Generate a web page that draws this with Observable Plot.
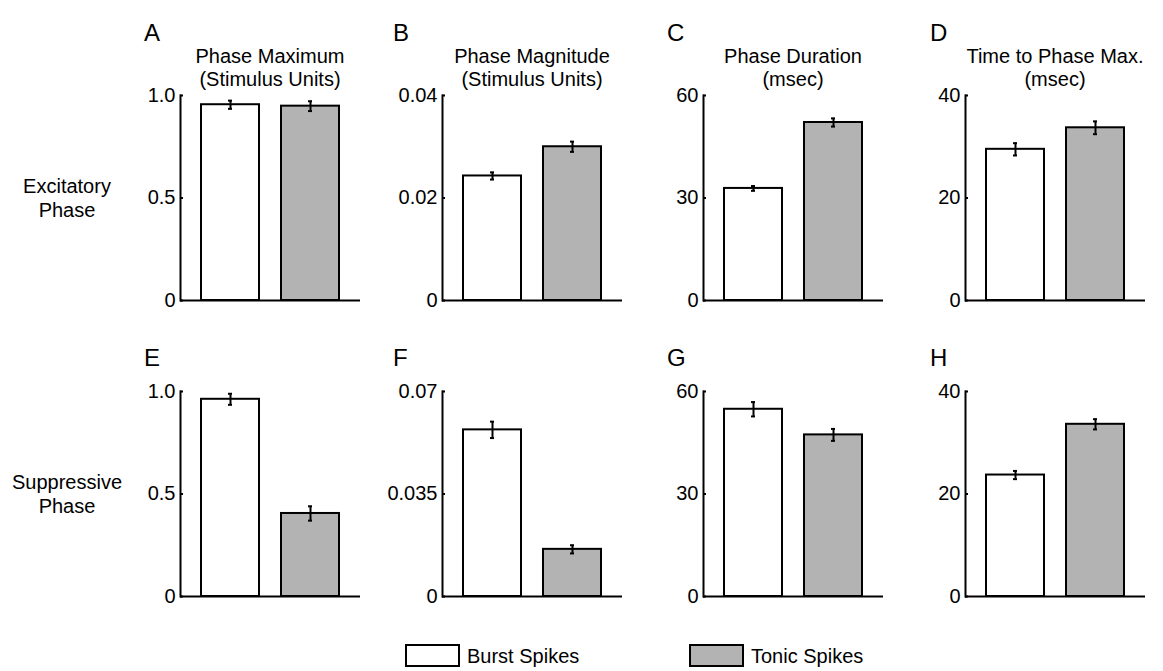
<!DOCTYPE html>
<html><head><meta charset="utf-8">
<script src="https://cdn.jsdelivr.net/npm/d3@7"></script>
<script src="https://cdn.jsdelivr.net/npm/@observablehq/plot@0.6"></script>
<style>
body{margin:0;background:#fff;}
#fig{position:relative;width:1163px;height:671px;overflow:hidden;background:#fff;font-family:"Liberation Sans",Arial,sans-serif;}
#fig svg{position:absolute;}
</style></head><body><div id="fig"></div>
<script>
// ---- data ----
const panelLetters = ["A","B","C","D","E","F","G","H"];
const columnTitles = [["Phase Maximum","(Stimulus Units)"],["Phase Magnitude","(Stimulus Units)"],["Phase Duration","(msec)"],["Time to Phase Max.","(msec)"]];
const rowLabels = [["Excitatory","Phase"],["Suppressive","Phase"]];
const groups = ["Burst Spikes","Tonic Spikes"];
const burstMeans = [0.955, 0.0243, 32.8, 29.5, 0.962, 0.0569, 54.8, 23.7];
const burstErr   = [0.020, 0.0007, 0.7, 1.2, 0.027, 0.0028, 2.1, 0.8];
const tonicMeans = [0.948, 0.0300, 52.1, 33.7, 0.405, 0.0161, 47.3, 33.6];
const tonicErr   = [0.024, 0.0010, 1.2, 1.25, 0.035, 0.0014, 1.75, 1.0];
const yMax = [1, 0.04, 60, 40, 1, 0.07, 60, 40];
const tickLabels = [["0","0.5","1.0"],["0","0.02","0.04"],["0","30","60"],["0","20","40"],
                    ["0","0.5","1.0"],["0","0.035","0.07"],["0","30","60"],["0","20","40"]];
const fillColors = ["#ffffff","#b3b3b3"];

// ---- layout ----
const FONT = "'Liberation Sans', Arial, sans-serif";
const ML=75, MR=10, MT=15, MB=15, PW=180, PH=205;
const axisX=[180,442,703,965], rowTop=[95,391];
const fig = document.getElementById("fig");

for (let i=0;i<8;i++){
  const col=i%4, row=Math.floor(i/4);
  const data = groups.map((g,j)=>({group:g, value: j? tonicMeans[i]:burstMeans[i], err: j? tonicErr[i]:burstErr[i]}));
  const ticks = [0, yMax[i]/2, yMax[i]];
  const lab = new Map(ticks.map((v,k)=>[v, tickLabels[i][k]]));
  const chart = Plot.plot({
    width: ML+PW+MR, height: MT+PH+MB,
    marginLeft: ML, marginRight: MR, marginTop: MT, marginBottom: MB,
    style: {fontFamily: FONT, fontSize: "20px", background: "transparent", overflow: "visible", color:"#000"},
    x: {domain: groups, paddingInner: 0.275, paddingOuter: 0.2625, axis: null},
    y: {domain: [0, yMax[i]], axis: null},
    color: {domain: groups, range: fillColors},
    marks: [
      Plot.barY(data, {x:"group", y:"value", fill:"group", stroke:"#000", strokeWidth:2}),
      Plot.ruleX(data, {x:"group", y1:d=>d.value-d.err, y2:d=>d.value+d.err, stroke:"#000", strokeWidth:2}),
      Plot.tickY(data, {x:"group", y:d=>d.value-d.err, insetLeft:27, insetRight:27, stroke:"#000", strokeWidth:2}),
      Plot.tickY(data, {x:"group", y:d=>d.value+d.err, insetLeft:27, insetRight:27, stroke:"#000", strokeWidth:2}),
      Plot.axisY({ticks, tickFormat: d=>lab.get(d), label: null, tickSize:-3, tickPadding:8, fontSize:20, strokeWidth:2}),
      Plot.frame({anchor:"left", strokeWidth:2}),
      Plot.ruleY([0], {strokeWidth:2})
    ]
  });
  chart.style.left = (axisX[col]-ML)+"px";
  chart.style.top = (rowTop[row]-MT)+"px";
  fig.appendChild(chart);
}

// ---- text overlay ----
const svg = d3.select(fig).append("svg").attr("width",1163).attr("height",671)
  .style("left","0px").style("top","0px").style("font-family",FONT);
const letterX = [144,393,667,930];
const letterY = [41,366];
panelLetters.forEach((L,i)=>{
  svg.append("text").attr("x",letterX[i%4]).attr("y",letterY[Math.floor(i/4)]).attr("font-size",24).text(L);
});
columnTitles.forEach((t,c)=>{
  t.forEach((line,k)=>{
    svg.append("text").attr("x",axisX[c]+PW/2).attr("y",63+k*23).attr("text-anchor","middle").attr("font-size",20).text(line);
  });
});
const rowLabelY=[193,489];
rowLabels.forEach((t,r)=>{
  t.forEach((line,k)=>{
    svg.append("text").attr("x",67).attr("y",rowLabelY[r]+k*24).attr("text-anchor","middle").attr("font-size",20).text(line);
  });
});
// legend
const legX=[406,690];
groups.forEach((g,j)=>{
  svg.append("rect").attr("x",legX[j]).attr("y",645).attr("width",53).attr("height",21)
    .attr("fill",fillColors[j]).attr("stroke","#000").attr("stroke-width",2);
  svg.append("text").attr("x",legX[j]+61).attr("y",663).attr("font-size",20).text(g);
});
</script></body></html>
